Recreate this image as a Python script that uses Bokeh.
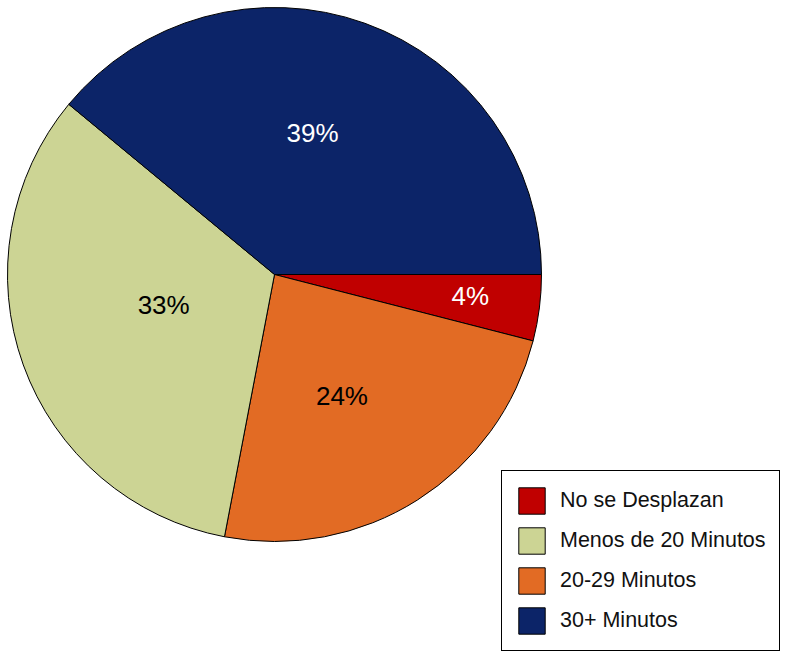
import math
from bokeh.plotting import figure
from bokeh.models import Range1d, Legend, LegendItem, ColumnDataSource
from bokeh.core.properties import value
from bokeh.embed import file_html
from bokeh.resources import INLINE

# ---- data ----
categories = ["No se Desplazan", "Menos de 20 Minutos", "20-29 Minutos", "30+ Minutos"]
values = [4, 33, 24, 39]
labels = ["4%", "33%", "24%", "39%"]
colors = ["#C00000", "#CCD494", "#E26B24", "#0C2468"]
label_colors = ["white", "black", "black", "white"]
# drawing order clockwise starting at 3 o'clock
pie_order = [0, 2, 1, 3]
# label placement: fraction of radius and angular shift (deg) from slice middle
label_radius = [0.738, 0.431, 0.521, 0.547]
label_shift = [0.8, -4.2, -3.4, 4.7]

W, H = 788, 657
R_PX = 267.0
CX, CY = 274.0, 274.0  # centre in frame px from top-left

p = figure(width=W, height=H, output_backend="svg", toolbar_location=None,
           x_range=Range1d(-CX / R_PX, (W - CX) / R_PX),
           y_range=Range1d(-(H - CY) / R_PX, CY / R_PX),
           min_border=0)
p.axis.visible = False
p.grid.visible = False
p.outline_line_color = None
p.background_fill_color = "white"
p.border_fill_color = "white"

total = float(sum(values))
renderers = {}
cum = 0.0
for i in pie_order:
    start = -cum / total * 2 * math.pi
    cum += values[i]
    end = -cum / total * 2 * math.pi
    src = ColumnDataSource(dict(x=[0], y=[0], s=[start], e=[end]))
    r = p.wedge(x="x", y="y", radius=1.0, start_angle="s", end_angle="e",
                direction="clock", fill_color=colors[i], line_color="black",
                line_width=1, source=src)
    renderers[i] = r
    mid = (start + end) / 2 + math.radians(label_shift[i])
    rr = label_radius[i]
    p.text(x=[rr * math.cos(mid)], y=[rr * math.sin(mid)], text=[labels[i]],
           text_font=value("Liberation Sans"), text_font_size="26px",
           text_color=label_colors[i], text_align="center", text_baseline="middle")

items = [LegendItem(label=categories[i], renderers=[renderers[i]]) for i in range(len(categories))]
legend = Legend(items=items, location=(501, 6),
                border_line_color="black", border_line_width=1, border_line_alpha=1,
                background_fill_color="white", background_fill_alpha=1,
                label_text_font="Liberation Sans", label_text_font_size="21.5px",
                label_text_color="#111111",
                glyph_width=33, glyph_height=33, label_height=33,
                spacing=7, padding=13, margin=0, label_standoff=12)
p.add_layout(legend)

open("out.html", "w").write(file_html(p, INLINE))
